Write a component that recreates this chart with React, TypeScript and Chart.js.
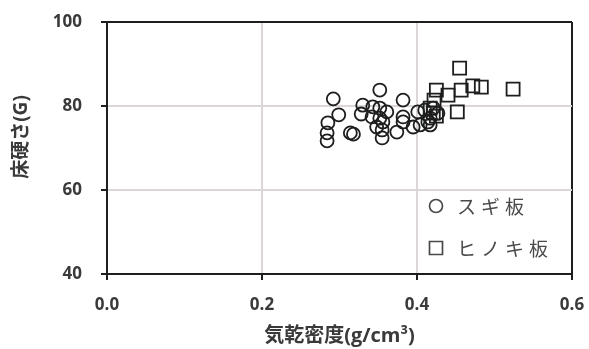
import { useEffect, useRef } from "react";
import { Chart, registerables } from "chart.js";

Chart.register(...registerables);

const seriesNames = ["スギ板", "ヒノキ板"];
const xTitle = "気乾密度(g/cm³)";
const yTitle = "床硬さ(G)";
const xTicks = [0, 0.2, 0.4, 0.6];
const yTicks = [40, 60, 80, 100];

const sugiDensity = [0.292, 0.299, 0.285, 0.284, 0.284, 0.314, 0.318, 0.330, 0.328, 0.343, 0.352, 0.352, 0.361, 0.342, 0.352, 0.356, 0.348, 0.355, 0.355, 0.374, 0.382, 0.382, 0.382, 0.395, 0.401, 0.404, 0.417, 0.427, 0.417, 0.410, 0.421, 0.414];
const sugiHardness = [81.7, 77.9, 76.0, 73.6, 71.7, 73.6, 73.3, 80.2, 78.1, 79.8, 83.8, 79.5, 78.6, 77.4, 77.1, 76.2, 75.0, 74.3, 72.4, 73.8, 81.4, 77.4, 76.2, 75.0, 78.6, 75.5, 75.5, 78.3, 77.1, 79.0, 79.5, 76.2];

const hinokiDensity = [0.455, 0.425, 0.440, 0.457, 0.472, 0.483, 0.524, 0.452, 0.422, 0.417, 0.421, 0.425];
const hinokiHardness = [89.0, 83.8, 82.6, 83.8, 84.8, 84.5, 84.0, 78.6, 81.4, 79.5, 78.3, 77.6];

const MARK = "#1e1e1e";
const TEXT = "#3a3a3a";
const GRID = "#dcd6d6";
const FONT = '"Open Sans", "Noto Sans CJK JP", sans-serif';

const decorPlugin = {
  id: "decor",
  afterDraw(chart: any) {
    const { ctx, chartArea } = chart;
    ctx.save();
    // y-axis title
    ctx.translate(22, (chartArea.top + chartArea.bottom) / 2 - 11);
    ctx.rotate(-Math.PI / 2);
    ctx.fillStyle = TEXT;
    ctx.font = `bold 19px ${FONT}`;
    ctx.textAlign = "center";
    ctx.textBaseline = "middle";
    ctx.fillText(yTitle, 0, 0);
    ctx.restore();

    // legend inside plot area
    const items = [
      { label: seriesNames[0], style: "circle" },
      { label: seriesNames[1], style: "rect" },
    ];
    ctx.save();
    items.forEach((it, i) => {
      const cx = chartArea.right - 136;
      const cy = chartArea.bottom - 68 + i * 42;
      ctx.strokeStyle = "#4a4a4a";
      ctx.lineWidth = 1.7;
      ctx.beginPath();
      if (it.style === "circle") {
        ctx.arc(cx, cy, 6.5, 0, Math.PI * 2);
      } else {
        ctx.rect(cx - 6.5, cy - 6.5, 13, 13);
      }
      ctx.stroke();
      ctx.fillStyle = "#4a4a4a";
      ctx.font = '19px "Noto Sans CJK JP", sans-serif';
      ctx.textBaseline = "middle";
      ctx.textAlign = "left";
      let x = cx + 21;
      for (const ch of it.label) {
        ctx.fillText(ch, x, cy + 1);
        x += ctx.measureText(ch).width + 5;
      }
    });
    ctx.restore();
  },
};

export default function App() {
  const ref = useRef<HTMLCanvasElement | null>(null);

  useEffect(() => {
    if (!ref.current) return;
    const chart = new Chart(ref.current, {
      type: "scatter",
      data: {
        datasets: [
          {
            label: seriesNames[0],
            data: sugiDensity.map((x, i) => ({ x, y: sugiHardness[i] })),
            pointStyle: "circle",
            pointRadius: 6.5,
            pointHoverRadius: 6.5,
            pointBorderWidth: 1.8,
            pointBackgroundColor: "rgba(0,0,0,0)",
            pointBorderColor: MARK,
          },
          {
            label: seriesNames[1],
            data: hinokiDensity.map((x, i) => ({ x, y: hinokiHardness[i] })),
            pointStyle: "rect",
            pointRadius: 9.2,
            pointHoverRadius: 9.2,
            pointBorderWidth: 1.8,
            pointBackgroundColor: "rgba(0,0,0,0)",
            pointBorderColor: MARK,
          },
        ],
      },
      options: {
        responsive: false,
        animation: false,
        events: [],
        layout: { padding: { top: 22, right: 17, left: 0, bottom: 0 } },
        plugins: {
          legend: { display: false },
          tooltip: { enabled: false },
        },
        scales: {
          x: {
            type: "linear",
            min: 0,
            max: 0.6,
            afterBuildTicks: (s: any) => {
              s.ticks = xTicks.map((v) => ({ value: v }));
            },
            afterFit: (s: any) => {
              s.height = 75;
              s.paddingLeft = 0;
              s.paddingRight = 0;
              s.paddingTop = 0;
              s.paddingBottom = 0;
            },
            border: { color: MARK, width: 2 },
            grid: {
              color: (c: any) => (c.tick && c.tick.value === 0.6 ? MARK : GRID),
              lineWidth: 2,
              tickColor: MARK,
              tickLength: 6,
            },
            ticks: {
              padding: 15,
              color: TEXT,
              font: { family: FONT, size: 17, weight: "bold" },
              callback: (v: any) => Number(v).toFixed(1),
            },
            title: {
              display: true,
              text: xTitle,
              color: TEXT,
              font: { family: FONT, size: 20, weight: "bold" },
              padding: { top: 0, bottom: 1 },
            },
          },
          y: {
            type: "linear",
            min: 40,
            max: 100,
            afterBuildTicks: (s: any) => {
              s.ticks = yTicks.map((v) => ({ value: v }));
            },
            afterFit: (s: any) => {
              s.width = 107;
              s.paddingLeft = 0;
              s.paddingRight = 0;
              s.paddingTop = 0;
              s.paddingBottom = 0;
            },
            border: { color: MARK, width: 2 },
            grid: {
              color: (c: any) => (c.tick && c.tick.value === 100 ? MARK : GRID),
              lineWidth: 2,
              tickColor: MARK,
              tickLength: 6,
            },
            ticks: {
              padding: 19,
              color: TEXT,
              font: { family: FONT, size: 17, weight: "bold" },
              callback: (v: any) => String(v),
            },
            title: { display: false },
          },
        },
      },
      plugins: [decorPlugin],
    });
    return () => chart.destroy();
  }, []);

  return (
    <div style={{ position: "absolute", left: 0, top: 0, width: 589, height: 349, background: "#fff" }}>
      <canvas ref={ref} width={589} height={349} style={{ display: "block" }} />
    </div>
  );
}
